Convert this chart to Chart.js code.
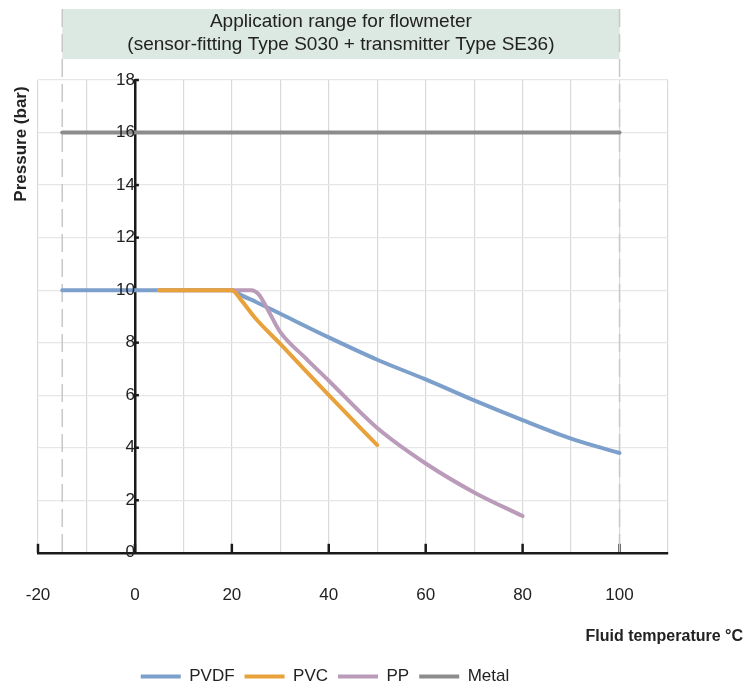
<!DOCTYPE html>
<html>
<head>
<meta charset="utf-8">
<script src="https://cdn.jsdelivr.net/npm/chart.js@4.4.1/dist/chart.umd.min.js"></script>
<style>
  html, body { margin: 0; padding: 0; background: #fff; }
  #wrap { width: 747px; height: 688px; }
</style>
</head>
<body>
<div id="wrap"><canvas id="chart"></canvas></div>
<script>
'use strict';

// labelled ticks
const tempTicks = [-20, 0, 20, 40, 60, 80, 100];
const pressureTicks = [0, 2, 4, 6, 8, 10, 12, 14, 16, 18];

// application range of the flowmeter (°C)
const rangeTemp = [-15, 100];

// curves (temperature °C / pressure bar)
const pvdfTemp = [-15, 20, 22, 25, 30, 40, 50, 60, 70, 80, 90, 100];
const pvdfBar  = [10, 10, 9.8, 9.55, 9.1, 8.2, 7.35, 6.6, 5.8, 5.05, 4.35, 3.8];

const pvcTemp = [5, 20, 22, 25, 30, 40, 50];
const pvcBar  = [10, 10, 9.6, 8.9, 7.95, 6.0, 4.1];

const ppTemp = [5, 24, 25.5, 27, 30, 35, 40, 50, 60, 70, 80];
const ppBar  = [10, 10, 9.85, 9.4, 8.4, 7.45, 6.55, 4.75, 3.4, 2.3, 1.4];

const metalTemp = [-15, 100];
const metalBar  = [16, 16];

const toPoints = (xs, ys) => xs.map((x, i) => ({ x: x, y: ys[i] }));

const FONT = "'Liberation Sans', Arial, Helvetica, sans-serif";
Chart.defaults.font.family = FONT;
Chart.defaults.color = '#222';

const extras = {
  id: 'extras',
  afterLayout(chart) {
    // legend and x title sit off-centre in the original
    const lg = chart.legend;
    lg.left -= 28; lg.right -= 28; lg.top += 7; lg.bottom += 7;
    const tb = chart.titleBlock;
    tb.left += 75; tb.right += 75; tb.top += 7; tb.bottom += 7;
  },
  beforeDatasetsDraw(chart) {
    const { ctx, scales: { x, y } } = chart;
    const x0 = x.getPixelForValue(0);
    const y0 = y.getPixelForValue(0);
    const xa = x.getPixelForValue(rangeTemp[0]);
    const xb = x.getPixelForValue(rangeTemp[1]);
    ctx.save();

    // header box
    ctx.fillStyle = '#dce8e2';
    ctx.fillRect(xa, 9, xb - xa, 50);
    ctx.fillStyle = '#222';
    ctx.font = '19px ' + FONT;
    ctx.textAlign = 'center';
    ctx.textBaseline = 'middle';
    ctx.fillText('Application range for flowmeter', (xa + xb) / 2, 22);
    ctx.fillText('(sensor-fitting Type S030 + transmitter Type SE36)', (xa + xb) / 2, 45);

    // y title
    ctx.save();
    ctx.translate(21, 144);
    ctx.rotate(-Math.PI / 2);
    ctx.font = 'bold 17px ' + FONT;
    ctx.fillText('Pressure (bar)', 0, 0);
    ctx.restore();

    // tick stubs inside the plot
    ctx.strokeStyle = '#1a1a1a';
    ctx.lineWidth = 2.5;
    tempTicks.forEach((t) => {
      const px = x.getPixelForValue(t);
      ctx.beginPath();
      ctx.moveTo(px, y0);
      ctx.lineTo(px, y0 - 9);
      ctx.stroke();
    });
    pressureTicks.slice(1).forEach((p) => {
      const py = y.getPixelForValue(p);
      ctx.beginPath();
      ctx.moveTo(x0, py);
      ctx.lineTo(x0 + 4, py);
      ctx.stroke();
    });

    // dashed range limits
    ctx.strokeStyle = '#c8c8c8';
    ctx.lineWidth = 1.5;
    ctx.setLineDash([18, 7]);
    [xa, xb].forEach((px) => {
      ctx.beginPath();
      ctx.moveTo(px, 9);
      ctx.lineTo(px, y0);
      ctx.stroke();
    });
    ctx.restore();
  }
};

const lineStyle = {
  borderWidth: 4,
  pointRadius: 0,
  fill: false,
  cubicInterpolationMode: 'monotone',
  borderCapStyle: 'round',
  borderJoinStyle: 'round'
};

new Chart(document.querySelector('#chart'), {
  type: 'line',
  data: {
    datasets: [
      { label: 'PVDF', data: toPoints(pvdfTemp, pvdfBar), borderColor: '#7c9fcb', backgroundColor: '#7c9fcb', order: 2, ...lineStyle },
      { label: 'PVC', data: toPoints(pvcTemp, pvcBar), borderColor: '#e9a23b', backgroundColor: '#e9a23b', order: 0, ...lineStyle },
      { label: 'PP', data: toPoints(ppTemp, ppBar), borderColor: '#ba9bb9', backgroundColor: '#ba9bb9', order: 1, ...lineStyle },
      { label: 'Metal', data: toPoints(metalTemp, metalBar), borderColor: '#8c8c8c', backgroundColor: '#8c8c8c', order: 3, ...lineStyle }
    ]
  },
  options: {
    responsive: true,
    maintainAspectRatio: false,
    animation: false,
    layout: { padding: { top: 80, left: 38, right: 79, bottom: 0 } },
    scales: {
      x: {
        type: 'linear',
        min: -20,
        max: 110,
        afterFit: (s) => {
          s.height = 52;
          s.paddingLeft = 0;
          s.paddingRight = 0;
        },
        grid: {
          drawTicks: false,
          lineWidth: 1.2,
          color: (c) => (c.tick && c.tick.value === 0 ? 'rgba(0,0,0,0)' : '#d9d9d9')
        },
        border: { display: true, color: '#1a1a1a', width: 2.5 },
        ticks: {
          stepSize: 10,
          autoSkip: false,
          maxRotation: 0,
          padding: 32,
          font: { size: 17 },
          callback: (v) => (tempTicks.includes(v) ? v : '')
        }
      },
      y: {
        position: { x: 0 },
        min: 0,
        max: 18,
        grid: {
          drawTicks: false,
          lineWidth: 1.2,
          color: (c) => (c.tick && c.tick.value === 0 ? 'rgba(0,0,0,0)' : '#e6e6e6')
        },
        border: { display: true, color: '#1a1a1a', width: 2.5 },
        ticks: {
          stepSize: 2,
          padding: 7,
          z: 1,
          font: { size: 17 }
        }
      }
    },
    plugins: {
      tooltip: { enabled: false },
      title: {
        display: true,
        position: 'bottom',
        align: 'end',
        weight: 100,
        text: 'Fluid temperature °C',
        color: '#222',
        font: { size: 16, weight: 'bold' },
        padding: { top: 15, bottom: 12 }
      },
      legend: {
        position: 'bottom',
        labels: {
          usePointStyle: true,
          pointStyle: 'line',
          pointStyleWidth: 40,
          padding: 10,
          color: '#222',
          font: { size: 17 },
          sort: (a, b) => a.datasetIndex - b.datasetIndex
        }
      }
    }
  },
  plugins: [extras]
});
</script>
</body>
</html>
